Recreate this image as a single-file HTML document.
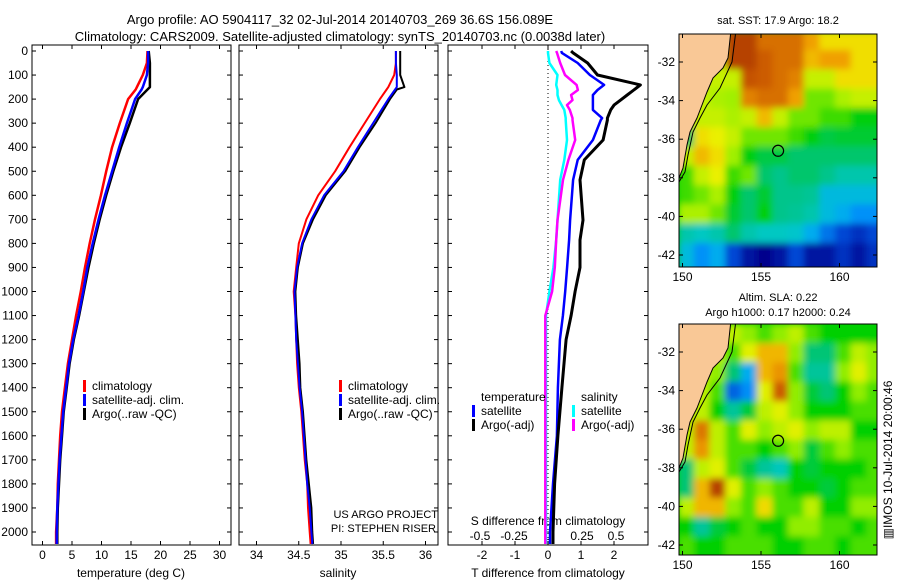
<!DOCTYPE html>
<html><head><meta charset="utf-8">
<style>
html,body{margin:0;padding:0;background:#fff;}
svg{display:block;font-family:"Liberation Sans",sans-serif;}
</style></head>
<body>
<svg id="fig" width="900" height="580" viewBox="0 0 900 580">
<defs>
<filter id="blur" filterUnits="userSpaceOnUse" x="660" y="0" width="240" height="580"><feGaussianBlur stdDeviation="3.5"/></filter>
<clipPath id="clip1"><rect x="679" y="34" width="198" height="233"/></clipPath>
<clipPath id="clip2"><rect x="679" y="324" width="198" height="231"/></clipPath>
<clipPath id="clipP3"><rect x="448" y="45" width="200" height="500"/></clipPath>
</defs>
<text x="340" y="24" font-size="13" text-anchor="middle">Argo profile: AO 5904117_32 02-Jul-2014 20140703_269 36.6S 156.089E</text>
<text x="340" y="41" font-size="13" text-anchor="middle">Climatology: CARS2009. Satellite-adjusted climatology: synTS_20140703.nc (0.0038d later)</text>
<g id="g"></g>
</svg>
<script>
// ---------- profile data ----------
const depths = [0,50,100,150,160,200,300,400,500,600,700,800,900,1000,1100,1200,1300,1400,1500,1600,1700,1800,1900,2000,2050];
const tempClim = [17.8,17.7,17.0,16.0,15.8,14.5,13.1,11.8,10.8,9.9,8.9,8.0,7.2,6.5,5.7,5.0,4.3,3.8,3.3,3.0,2.8,2.6,2.5,2.3,2.3];
const tempSat  = [17.9,17.9,17.7,17.0,16.8,15.7,14.3,13.0,11.8,10.6,9.5,8.5,7.6,6.9,6.1,5.2,4.5,4.0,3.5,3.2,2.9,2.7,2.5,2.4,2.4];
const tempArgo = [18.0,18.2,18.2,18.2,17.8,16.2,14.8,13.3,12.0,10.8,9.7,8.7,7.8,7.0,6.2,5.3,4.6,4.1,3.6,3.3,3.0,2.8,2.6,2.5,2.5];
const salClim = [35.65,35.65,35.63,35.56,35.54,35.46,35.28,35.10,34.93,34.73,34.59,34.50,34.47,34.44,34.46,34.47,34.48,34.50,34.53,34.55,34.57,34.60,34.61,34.63,34.64];
const salSat  = [35.65,35.65,35.66,35.66,35.64,35.56,35.38,35.20,35.03,34.80,34.65,34.54,34.48,34.45,34.46,34.47,34.49,34.51,34.54,34.56,34.58,34.60,34.63,34.65,34.66];
const salArgo = [35.70,35.70,35.70,35.75,35.66,35.58,35.41,35.22,35.05,34.82,34.67,34.55,34.49,34.46,34.47,34.49,34.51,34.52,34.55,34.57,34.59,34.62,34.65,34.66,34.67];
const diffDepths = [0,8,50,100,141,162,183,204,225,245,279,287,370,453,536,703,786,900,1000,1100,1200,1400,1600,1800,2000,2050];
const dTArgo = [0.7,0.76,1.2,1.5,2.8,2.6,2.4,2.2,2.0,1.9,1.8,1.8,1.67,1.1,0.97,1.06,0.97,0.97,0.82,0.7,0.55,0.42,0.3,0.2,0.15,0.15];
const dTSat  = [0.4,0.42,0.9,1.27,1.7,1.5,1.36,1.36,1.36,1.36,1.64,1.6,1.36,0.9,0.76,0.67,0.64,0.58,0.52,0.45,0.36,0.3,0.27,0.15,0.06,0.06];
const dSArgo = [0.06,0.066,0.09,0.125,0.21,0.22,0.17,0.18,0.14,0.16,0.18,0.18,0.2,0.15,0.11,0.07,0.06,0.05,0.03,-0.02,-0.02,-0.02,-0.02,-0.02,-0.02,-0.02];
const dSSat  = [0.0,0.0,0.01,0.07,0.06,0.07,0.07,0.08,0.1,0.12,0.13,0.13,0.14,0.12,0.09,0.07,0.06,0.04,0.01,-0.015,-0.015,-0.015,-0.015,-0.015,-0.015,-0.015];
const depthTicks = [0,100,200,300,400,500,600,700,800,900,1000,1100,1200,1300,1400,1500,1600,1700,1800,1900,2000];
const tempTicks = [0,5,10,15,20,25,30];
const salTicks = [34,34.5,35,35.5,36];
const salTickLabels = ["34","34.5","35","35.5","36"];
const dTTicks = [-2,-1,0,1,2];
const dSTicks = [-0.5,-0.25,0,0.25,0.5];
const dSTickLabels = ["-0.5","-0.25","0","0.25","0.5"];
// ---------- map data ----------
const lonCells = [150,151,152,153,154,155,156,157,158,159,160,161,162];
const sstGrid = [
 [18,18,18,19.5,19.5,19,19,19,18.5,18,18,18,18],
 [17.5,17.5,17.5,19.5,19.5,19.2,19,19,18.3,18.5,18.5,18,18],
 [17.5,17.5,17.5,17.5,19.3,19.2,19,18.8,17.5,17.5,18,18,18],
 [17.5,17.5,17.3,17.2,18.8,19,19,18.5,17,17,17.3,17.5,17.5],
 [17.5,17.5,17.5,17.3,17.5,18.3,17.5,17,17,16.8,16.8,16.5,16.5],
 [16,18,17.8,17.5,17,17,17,16.8,16.5,16.2,16.3,16.3,16.3],
 [17.5,18.3,18,17.2,16.5,16.2,16.2,16,16,16,16,16,16],
 [16.8,17.5,17.8,16.8,17,16,15.8,16,16,15.8,15.5,15.5,15.5],
 [16.8,17,17.3,16.5,16,16.3,15.8,15.8,15.7,15,15,15,15],
 [17.3,17.3,17,16.3,16,16.5,15.8,15.7,15.5,15,14.8,14.5,14.5],
 [15.5,15.3,15.5,16,15.5,15.3,15.3,15.2,14.8,14.3,14,13.8,14],
 [15,14.5,14.8,14,13.5,13.3,13.5,14,13.5,13.5,13.8,13.5,13.8],
 [15,14.5,14.8,14,13.5,13.3,13.5,14,13.5,13.5,13.8,13.5,13.8]
];
const slaGrid = [
 [0.15,0.15,0.15,0.15,0.1,0.05,0.1,0.15,0.05,0,0,0,0],
 [0.15,0.15,0.15,0.05,0.2,0.3,0.3,0.1,-0.1,-0.1,0.05,0.15,0.1],
 [0.15,0.15,0.1,-0.1,-0.3,0.3,0.35,0.05,-0.15,-0.15,0.1,0.2,0.1],
 [0.15,0.15,0.05,-0.4,-0.35,0.2,0.45,0.1,-0.05,-0.1,0,0.1,0.05],
 [0.15,0.15,0,-0.15,-0.05,0.15,0.2,0.1,0,0,0,0.05,0.05],
 [0.15,0.4,0.15,0.05,0.2,0.1,0.15,0.2,0.1,0.15,0.15,0,0],
 [0.15,0.35,0.15,0.05,0.05,0,0.05,0.1,-0.05,0.05,0.1,0.05,0.05],
 [-0.1,0.15,0.2,0.05,-0.05,-0.15,-0.2,0,-0.05,0,0,0,0.05],
 [-0.1,0.3,0.5,0.2,0.05,0.1,0.05,0,0,-0.05,0,0.05,0.05],
 [0.15,0.3,0.3,0.1,0.05,0.25,0.05,0.05,0.15,0,0,0.1,0.1],
 [0,-0.15,-0.05,0,0.05,0,0,0.1,0.1,0.05,0.05,0,0.05],
 [0.05,0,0,0.05,0.05,0.05,0,0,0.05,0.05,0,0.05,0.05],
 [0.05,0,0,0.05,0.05,0.05,0,0,0.05,0.05,0,0.05,0.05]
];
const lonTicks = [150,155,160];
const latTicks = [-32,-34,-36,-38,-40,-42];
const argoLon = 156.089, argoLat = -36.6;

const NS="http://www.w3.org/2000/svg";
const G=document.getElementById('g');
function el(tag,attrs,parent){const e=document.createElementNS(NS,tag);for(const k in attrs)e.setAttribute(k,attrs[k]);(parent||G).appendChild(e);return e;}
function txt(x,y,s,size,anchor,parent){const t=el('text',{x:x,y:y,'font-size':size,'text-anchor':anchor||'middle'},parent);t.textContent=s;return t;}

const yD = d => 51 + d*0.2405;
const PT={x0:32,x1:231}, PS={x0:239,x1:438}, PD={x0:448,x1:648};
const xT = v => 42.5 + v*5.9;
const xS = v => 256.5 + (v-34)*84.5;
const xDT = v => 548 + v*33;
const xDS = v => 548 + v*136;

function panel(P,name){
  const r=el('rect',{x:P.x0,y:45,width:P.x1-P.x0,height:500,fill:'none',stroke:'#000','stroke-width':1});
  
  
  depthTicks.forEach(d=>{
    el('line',{x1:P.x0,x2:P.x0+4,y1:yD(d),y2:yD(d),stroke:'#000'});
    el('line',{x1:P.x1-4,x2:P.x1,y1:yD(d),y2:yD(d),stroke:'#000'});
  });
}
panel(PT,'temperature-panel');panel(PS,'salinity-panel');panel(PD,'difference-panel');
depthTicks.forEach(d=>{const t=txt(28,yD(d)+4,String(d),12,'end');

});

function xticks(arr,labels,fx,ylab){
  arr.forEach((v,i)=>{const x=fx(v);
    el('line',{x1:x,x2:x,y1:545,y2:541,stroke:'#000'});
    el('line',{x1:x,x2:x,y1:45,y2:49,stroke:'#000'});
    const t=txt(x,ylab,labels[i],12);
    
    });
}
xticks(tempTicks,tempTicks.map(String),xT,559);
xticks(salTicks,salTickLabels,xS,559);
xticks(dTTicks,dTTicks.map(String),xDT,559);
dSTicks.forEach((v,i)=>{const t=txt(xDS(v),540,dSTickLabels[i],12);

});
let t;
t=txt(131,577,'temperature (deg C)',12);
t=txt(338,577,'salinity',12);
t=txt(548,577,'T difference from climatology',12);
t=txt(548,525,'S difference from climatology',12);
t=txt(438,518,'US ARGO PROJECT',11,'end');
t=txt(436,532,'PI: STEPHEN RISER',11,'end');

const z=el('line',{x1:xDT(0),x2:xDT(0),y1:45,y2:545,stroke:'#000','stroke-dasharray':'1,3'});


function line(vals,dd,fx,color,w,name,clip){
  const pts=vals.map((v,i)=>fx(v).toFixed(1)+','+yD(dd[i]).toFixed(1)).join(' ');
  const p=el('polyline',{points:pts,fill:'none',stroke:color,'stroke-width':w,'stroke-linejoin':'round'});
  if(clip)p.setAttribute('clip-path','url(#clipP3)');
  
  
}
line(tempClim,depths,xT,'#ff0000',2.5,'temp-climatology-line');
line(tempArgo,depths,xT,'#000',2.5,'temp-argo-line');
line(tempSat,depths,xT,'#0000ff',2.5,'temp-satellite-line');
line(salClim,depths,xS,'#ff0000',2,'sal-climatology-line');
line(salArgo,depths,xS,'#000',2,'sal-argo-line');
line(salSat,depths,xS,'#0000ff',2,'sal-satellite-line');
line(dSSat,diffDepths,xDS,'#00ffff',2.5,'s-diff-satellite-line',1);
line(dSArgo,diffDepths,xDS,'#ff00ff',2.5,'s-diff-argo-line',1);
line(dTSat,diffDepths,xDT,'#0000ff',2.5,'t-diff-satellite-line',1);
line(dTArgo,diffDepths,xDT,'#000',3,'t-diff-argo-line',1);

function legend(x,y,color,label,name){
  const g=el('g',{});
  
  
  el('rect',{x:x,y:y-10,width:3,height:12,fill:color},g);
  txt(x+9,y,label,12,'start',g);
}
[[390,'#ff0000','climatology'],[404,'#0000ff','satellite-adj. clim.'],[418,'#000','Argo(..raw -QC)']].forEach(a=>{
  legend(83,a[0],a[1],a[2],'temp-legend-entry');
  legend(339,a[0],a[1],a[2],'sal-legend-entry');
});
t=txt(481,401,'temperature',12,'start');
t=txt(581,401,'salinity',12,'start');
legend(472,415,'#0000ff','satellite','legend-t-satellite');
legend(472,429,'#000','Argo(-adj)','legend-t-argo');
legend(572,415,'#00ffff','satellite','legend-s-satellite');
legend(572,429,'#ff00ff','Argo(-adj)','legend-s-argo');

// ---------- maps ----------
const cmap=[[0,0,140],[0,64,208],[0,160,255],[0,200,200],[0,196,128],[0,208,0],[160,240,0],[240,240,0],[240,160,0],[208,96,0],[160,40,0]];
function jet(v){v=Math.max(0,Math.min(1,v))*(cmap.length-1);
  const i=Math.min(cmap.length-2,Math.floor(v)), f=v-i;
  const c=cmap[i].map((a,k)=>Math.round(a+(cmap[i+1][k]-a)*f));
  return 'rgb('+c.join(',')+')';}
const xLon = lon => 761 + (lon-155)*15.7;
function drawMap(grid,vmin,vmax,oy,topLat,clip,name){
  const yLat = lat => oy + 62 + (-32-lat)*19.3;
  const outer=el('g',{'clip-path':'url(#'+clip+')'});
  
  
  el('rect',{x:679,y:oy+34,width:198,height:233,fill:jet(0.5)},outer);
  const hg=el('g',{filter:'url(#blur)'},outer);
  grid.forEach((row,r)=>row.forEach((v,c)=>{
    const x=xLon(lonCells[c]-0.25), y=yLat(topLat-r);
    const cell=el('rect',{x:x-0.5,y:y-0.5,width:16.7,height:20.3,fill:jet((v-vmin)/(vmax-vmin))},hg);
    
    
  }));
  const land=el('path',{d:'M679,'+(oy+30)+' L731,'+(oy+30)+' L728,'+(oy+58)+' L723,'+(oy+68)+' L713,'+(oy+78)+' L707,'+(oy+92)+' L702,'+(oy+105)+' L697,'+(oy+118)+' L690,'+(oy+132)+' L687,'+(oy+145)+' L683,'+(oy+168)+' L679,'+(oy+178)+' Z',fill:'#f9c896',stroke:'#000','stroke-width':1},outer);
  
  const iso=el('polyline',{points:'736,'+(oy+30)+' 732,'+(oy+62)+' 720,'+(oy+88)+' 707,'+(oy+105)+' 700,'+(oy+118)+' 693,'+(oy+132)+' 688,'+(oy+155)+' 685,'+(oy+172)+' 679,'+(oy+182),fill:'none',stroke:'#000','stroke-width':1},outer);
  
  const h=233-(clip==='clip2'?2:0);
  el('rect',{x:679,y:oy+34,width:198,height:h,fill:'none',stroke:'#000'});
  const mk=el('circle',{cx:xLon(argoLon),cy:yLat(argoLat),r:5.5,fill:'none',stroke:'#000','stroke-width':1.2});
  
  lonTicks.forEach(l=>{const x=xLon(l);
    el('line',{x1:x,x2:x,y1:oy+34+h,y2:oy+30+h,stroke:'#000'});
    el('line',{x1:x,x2:x,y1:oy+34,y2:oy+38,stroke:'#000'});
    const tt=txt(x,oy+48+h,String(l),12);
    });
  latTicks.forEach(l=>{const y=yLat(l);
    el('line',{x1:877,x2:873,y1:y,y2:y,stroke:'#000'});
    el('line',{x1:679,x2:683,y1:y,y2:y,stroke:'#000'});
    const tt=txt(675,y+4,String(l),12,'end');
    });
}
drawMap(sstGrid,13.3,19.8,0,-30.4,'clip1','sst-map');
drawMap(slaGrid,-0.55,0.55,290,-30.57,'clip2','sla-map');
t=txt(778,24,'sat. SST: 17.9 Argo: 18.2',11);
t=txt(778,301,'Altim. SLA: 0.22',11);
t=txt(778,316,'Argo h1000: 0.17 h2000: 0.24',11);
t=txt(0,0,'\u25A5IMOS 10-Jul-2014 20:00:46',12);
t.setAttribute('transform','translate(892,460) rotate(-90)');

</script>
</body></html>
